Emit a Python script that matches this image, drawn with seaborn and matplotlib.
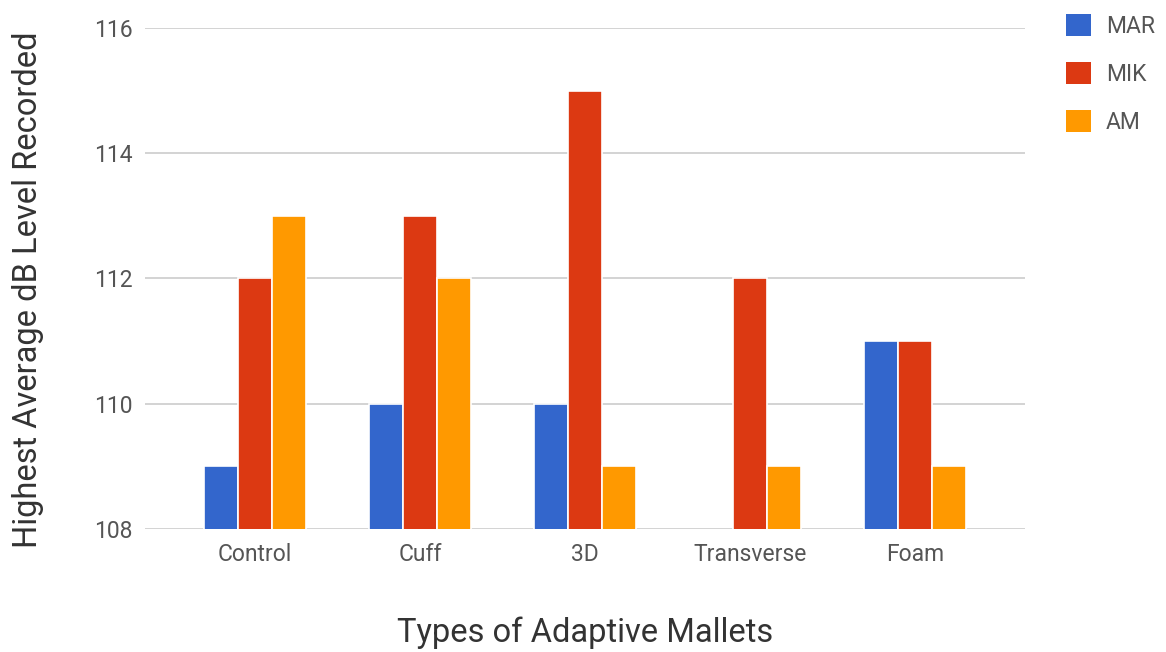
import matplotlib
matplotlib.use("Agg")
import matplotlib.pyplot as plt
import seaborn as sns
import pandas as pd
import numpy as np
from matplotlib.patches import Patch

categories = ["Control", "Cuff", "3D", "Transverse", "Foam"]
series_names = ["MAR", "MIK", "AM"]
mar = [109, 110, 110, np.nan, 111]
mik = [112, 113, 115, 112, 111]
am = [113, 112, 109, 109, 109]
yticks = [108, 110, 112, 114, 116]
colors = ["#3366CC", "#DC3912", "#FF9900"]

rows = []
for name, vals in zip(series_names, [mar, mik, am]):
    for cat, v in zip(categories, vals):
        rows.append({"Mallet": cat, "Series": name, "dB": v})
df = pd.DataFrame(rows)

sns.set_theme(style="white")
plt.rcParams["font.family"] = ["Roboto", "DejaVu Sans"]

fig = plt.figure(figsize=(11.66, 6.52), dpi=100)
ax = fig.add_axes([0.1244, 0.1887, 0.7547, 0.7684])

sns.barplot(data=df, x="Mallet", y="dB", hue="Series", order=categories,
            hue_order=series_names, palette=colors, width=0.62,
            edgecolor="white", linewidth=1.2, saturation=1, ax=ax,
            legend=False, errorbar=None)

ax.set_ylim(108, 116)
ax.set_xlim(-0.667, 4.667)
ax.set_yticks(yticks)
ax.set_yticklabels([str(t) for t in yticks], fontsize=16.5, color="#555555")
ax.tick_params(axis="x", labelsize=16.5, labelcolor="#555555", length=0, pad=10)
ax.tick_params(axis="y", length=0, pad=9)
for t in yticks:
    ax.axhline(t, color="#cccccc", linewidth=1.2, zorder=0)
for s in ax.spines.values():
    s.set_visible(False)

ax.set_xlabel("Types of Adaptive Mallets", fontsize=23.5, color="#333333")
ax.set_ylabel("Highest Average dB Level Recorded", fontsize=23.5, color="#333333")
ax.xaxis.set_label_coords(0.5, -0.175)
ax.yaxis.set_label_coords(-0.115, 0.477)

handles = [Patch(facecolor=c, edgecolor="none") for c in colors]
fig.legend(handles, series_names, loc="upper left", bbox_to_anchor=(0.914, 0.978),
           frameon=False, fontsize=16.5, labelcolor="#555555", borderpad=0,
           borderaxespad=0, handlelength=1.1, handleheight=1.1,
           labelspacing=1.05, handletextpad=0.65)

fig.savefig("out.png", dpi=100, facecolor="white")
